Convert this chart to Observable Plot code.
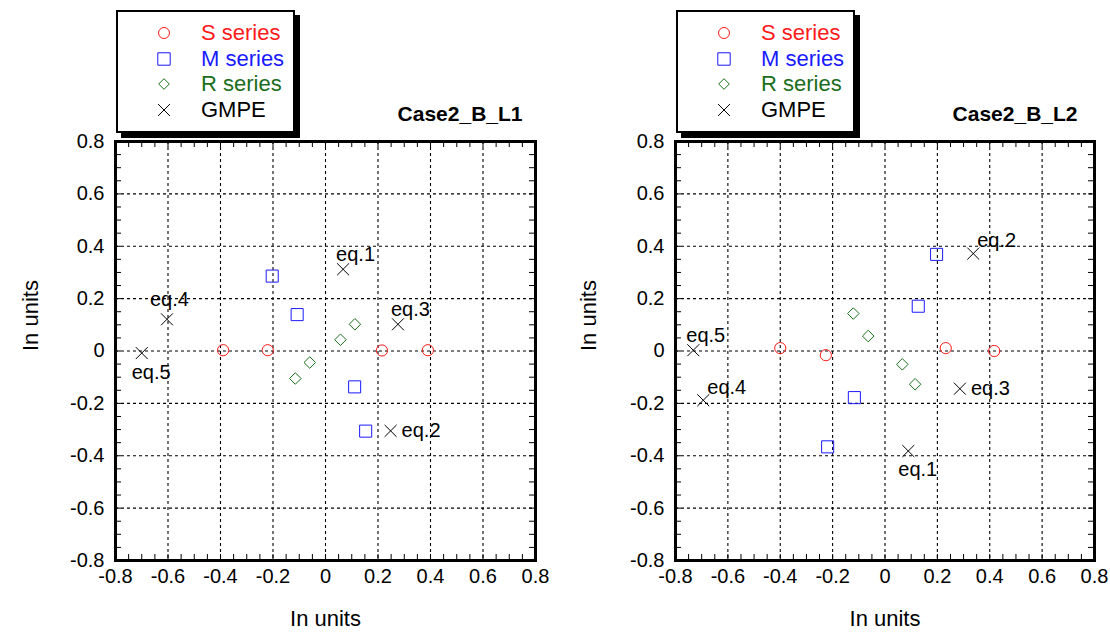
<!DOCTYPE html>
<html><head><meta charset="utf-8">
<script src="https://cdn.jsdelivr.net/npm/d3@7"></script>
<script src="https://cdn.jsdelivr.net/npm/@observablehq/plot@0.6"></script>
<style>
body{margin:0;background:#fff;font-family:"Liberation Sans",Arial,sans-serif;}
#wrap{position:relative;width:1110px;height:632px;overflow:hidden;}
.panel{position:absolute;top:0;}
.legend{position:absolute;top:10px;width:175px;height:119px;border:2px solid #000;box-shadow:5px 5px 0 #000;background:#fff;}
.legend .row{position:absolute;left:0;height:26px;width:175px;}
.legend svg{position:absolute;left:34px;top:1px;}
.legend span{position:absolute;left:83px;top:0;font-size:22px;line-height:26px;}
</style></head>
<body><div id="wrap"></div>
<script>
// ---- data ----
const xTicks = [-0.8,-0.6,-0.4,-0.2,0,0.2,0.4,0.6,0.8];
const yTicks = [-0.8,-0.6,-0.4,-0.2,0,0.2,0.4,0.6,0.8];
const seriesNames = ["S series","M series","R series","GMPE"];
const panelTitles = ["Case2_B_L1","Case2_B_L2"];
const axisTitle = "In units";

// Case2_B_L1
const L1_S = [[-0.39,0.003],[-0.22,0.003],[0.215,0.002],[0.39,0.003]];
const L1_M = [[-0.203,0.286],[-0.108,0.139],[0.111,-0.137],[0.153,-0.306]];
const L1_R = [[0.112,0.102],[0.057,0.043],[-0.06,-0.044],[-0.115,-0.105]];
const L1_GMPE = [[0.067,0.312],[0.248,-0.305],[0.276,0.102],[-0.604,0.121],[-0.70,-0.008]];
const L1_GMPE_labels = ["eq.1","eq.2","eq.3","eq.4","eq.5"];
const L1_GMPE_side = ["n","e","n","nw","s"];

// Case2_B_L2
const L2_S = [[-0.40,0.011],[-0.226,-0.016],[0.232,0.011],[0.417,0.0]];
const L2_M = [[0.197,0.369],[0.127,0.171],[-0.117,-0.178],[-0.219,-0.366]];
const L2_R = [[-0.121,0.143],[-0.064,0.057],[0.066,-0.051],[0.115,-0.127]];
const L2_GMPE = [[0.089,-0.382],[0.337,0.372],[0.286,-0.144],[-0.694,-0.188],[-0.732,0.003]];
const L2_GMPE_labels = ["eq.1","eq.2","eq.3","eq.4","eq.5"];
const L2_GMPE_side = ["s","ne","e","ne","n"];

// ---- styles ----
const seriesStyle = [
  {symbol:"circle", color:"#ff1a1a", r:5.6, lr:5.5},
  {symbol:"square", color:"#1a1aff", r:6.8, lr:7},
  {symbol:"diamond2", color:"#1a6e1a", r:5.2, lr:4.8},
  {symbol:"times", color:"#000000", r:5.5, lr:5.5}
];
const labelOffset = {e:[11,0], ne:[4,-13], n:[-7,-15], nw:[-17,-20], s:[-10,19]};
const fmt = d => d === 0 ? "0" : String(d);

function makePanel(k, series, labels, sides, left, ml, mr, titleDx, yTitleDx) {
  const W = 555, H = 632, mt = 141, mb = 72;
  const fw = W - ml - mr, fh = H - mt - mb;
  const minor = d3.range(-16, 17).map(i => i / 20);
  const inner = xTicks.slice(1, -1);
  const marks = [
    Plot.ruleX(inner, {stroke:"#000", strokeWidth:1.1, strokeDasharray:"3,3"}),
    Plot.ruleY(inner, {stroke:"#000", strokeWidth:1.1, strokeDasharray:"3,3"}),
    Plot.tickX(minor, {x:d=>d, stroke:"#000", insetTop: fh - 6}),
    Plot.tickX(minor, {x:d=>d, stroke:"#000", insetBottom: fh - 6}),
    Plot.tickY(minor, {y:d=>d, stroke:"#000", insetRight: fw - 6}),
    Plot.tickY(minor, {y:d=>d, stroke:"#000", insetLeft: fw - 6}),
    Plot.axisX(xTicks, {tickSize:0, tickPadding:8, tickFormat:fmt, label:null, fontSize:20}),
    Plot.axisY(yTicks, {tickSize:0, tickPadding:11, tickFormat:fmt, label:null, fontSize:20})
  ];
  series.forEach((s, j) => {
    const st = seriesStyle[j];
    marks.push(Plot.dot(s, {x:d=>d[0], y:d=>d[1], symbol:st.symbol, r:st.r, stroke:st.color, fill:"none", strokeWidth:1}));
  });
  const gm = series[3].map((d, i) => ({x:d[0], y:d[1], label:labels[i], side:sides[i]}));
  for (const side of Object.keys(labelOffset)) {
    const sub = gm.filter(d => d.side === side);
    if (!sub.length) continue;
    marks.push(Plot.text(sub, {x:"x", y:"y", text:"label", textAnchor:"start", fontSize:20, fill:"#000",
      dx: labelOffset[side][0], dy: labelOffset[side][1]}));
  }
  marks.push(Plot.frame({stroke:"#000", strokeWidth:3}));
  marks.push(Plot.text([axisTitle], {frameAnchor:"bottom", dy:65, fontSize:22, fill:"#000"}));
  marks.push(Plot.text([axisTitle], {frameAnchor:"left", dx:yTitleDx, rotate:-90, fontSize:22, fill:"#000"}));
  marks.push(Plot.text([panelTitles[k]], {frameAnchor:"top-right", textAnchor:"end", lineAnchor:"bottom", dx:titleDx, dy:-21, fontSize:21, fontWeight:"bold", fill:"#000"}));
  const svg = Plot.plot({
    width: W, height: H, marginLeft: ml, marginRight: mr, marginTop: mt, marginBottom: mb,
    x: {domain:[-0.8,0.8], axis:null},
    y: {domain:[-0.8,0.8], axis:null},
    style: {fontFamily:'"Liberation Sans", Arial, sans-serif', fontSize:"20px", background:"#fff", color:"#000", overflow:"visible"},
    marks
  });
  const div = document.createElement("div");
  div.className = "panel";
  div.style.left = left + "px";
  div.appendChild(svg);
  // legend
  const lg = document.createElement("div");
  lg.className = "legend";
  lg.style.left = (ml + 1) + "px";
  seriesNames.forEach((name, j) => {
    const st = seriesStyle[j];
    const row = document.createElement("div");
    row.className = "row";
    row.style.top = (8 + j * 25.7) + "px";
    const ns = "http://www.w3.org/2000/svg";
    const s = document.createElementNS(ns, "svg");
    s.setAttribute("width", 24); s.setAttribute("height", 24);
    const p = document.createElementNS(ns, "path");
    const sym = {circle:d3.symbolCircle, square:d3.symbolSquare, diamond2:d3.symbolDiamond2, times:d3.symbolTimes}[st.symbol];
    p.setAttribute("d", d3.symbol(sym, st.lr * st.lr * Math.PI)());
    p.setAttribute("transform", "translate(12,12)");
    p.setAttribute("fill", "none"); p.setAttribute("stroke", st.color); p.setAttribute("stroke-width", 1);
    s.appendChild(p);
    row.appendChild(s);
    const t = document.createElement("span");
    t.textContent = name; t.style.color = st.color;
    row.appendChild(t);
    lg.appendChild(row);
  });
  div.appendChild(lg);
  document.getElementById("wrap").appendChild(div);
}

makePanel(0, [L1_S, L1_M, L1_R, L1_GMPE], L1_GMPE_labels, L1_GMPE_side, 0, 115, 20, -13, -85);
makePanel(1, [L2_S, L2_M, L2_R, L2_GMPE], L2_GMPE_labels, L2_GMPE_side, 555, 120, 16, -17, -87);
</script></body></html>
